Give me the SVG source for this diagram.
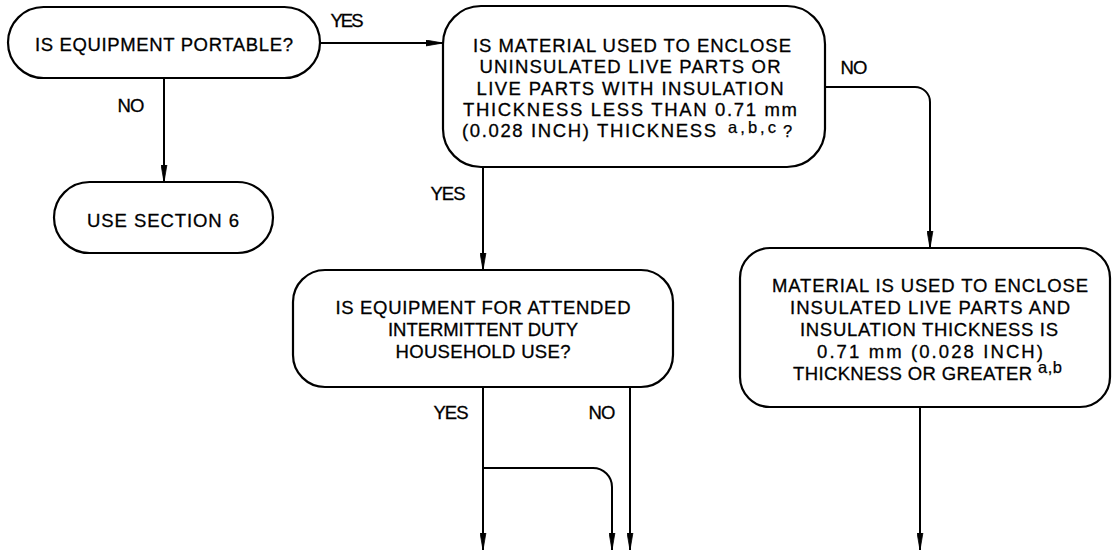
<svg xmlns="http://www.w3.org/2000/svg" width="1112" height="552" viewBox="0 0 1112 552">
<style>
.n{fill:#fff;stroke:#000;stroke-width:2.2}
.t{font-family:"Liberation Sans",Arial,sans-serif;font-size:18.5px;fill:#000;text-anchor:middle;stroke:#000;stroke-width:0.3}
.l{text-anchor:start}
.s{font-family:"Liberation Sans",Arial,sans-serif;font-size:16.5px;fill:#000;stroke:#000;stroke-width:0.25}
.c{fill:none;stroke:#000;stroke-width:2}
</style>
<defs>
<marker id="ah" viewBox="0 0 17 7" refX="17" refY="3.5" markerWidth="17" markerHeight="7" markerUnits="userSpaceOnUse" orient="auto">
<path d="M0,0.6 L17,3.5 L0,6.4 Z" fill="#000" stroke="#000" stroke-width="0.8"/>
</marker>
</defs>
<rect width="1112" height="552" fill="#fff"/>
<g id="connectors">
<path class="c" d="M320,43 H443" marker-end="url(#ah)"/>
<path class="c" d="M164,78 V182" marker-end="url(#ah)"/>
<path class="c" d="M483,167 V270" marker-end="url(#ah)"/>
<path class="c" d="M825,87 H915 A15,15 0 0 1 930,102 V248" marker-end="url(#ah)"/>
<path class="c" d="M920,407 V550" marker-end="url(#ah)"/>
<path class="c" d="M483,387 V550" marker-end="url(#ah)"/>
<path class="c" d="M483,468 H593 A19,19 0 0 1 612,487 V550" marker-end="url(#ah)"/>
<path class="c" d="M630,387 V550" marker-end="url(#ah)"/>
<text class="t" x="347" y="27" textLength="33" lengthAdjust="spacing">YES</text>
<text class="t" x="131" y="112" textLength="27" lengthAdjust="spacing">NO</text>
<text class="t" x="854" y="74" textLength="27" lengthAdjust="spacing">NO</text>
<text class="t" x="448" y="200" textLength="35" lengthAdjust="spacing">YES</text>
<text class="t" x="451" y="419" textLength="35" lengthAdjust="spacing">YES</text>
<text class="t" x="602" y="419" textLength="27" lengthAdjust="spacing">NO</text>
</g>
<g id="portable">
<rect class="n" x="8" y="7" width="312" height="71" rx="35.5"/>
<text class="t" x="164" y="51" textLength="258" lengthAdjust="spacing">IS EQUIPMENT PORTABLE?</text>
</g>
<g id="section6">
<rect class="n" x="54" y="182" width="219" height="71" rx="35.5"/>
<text class="t" x="163" y="227" textLength="152" lengthAdjust="spacing">USE SECTION 6</text>
</g>
<g id="material">
<rect class="n" x="443" y="6" width="382" height="161" rx="38"/>
<text class="t" x="632" y="52" textLength="318" lengthAdjust="spacing">IS MATERIAL USED TO ENCLOSE</text>
<text class="t" x="630" y="73" textLength="301" lengthAdjust="spacing">UNINSULATED LIVE PARTS OR</text>
<text class="t" x="630" y="95" textLength="307" lengthAdjust="spacing">LIVE PARTS WITH INSULATION</text>
<text class="t" x="630" y="116" textLength="334" lengthAdjust="spacing">THICKNESS LESS THAN 0.71 mm</text>
<text class="t l" x="462" y="137" textLength="254" lengthAdjust="spacing">(0.028 INCH) THICKNESS</text>
<text class="s" x="728" y="133" textLength="48" lengthAdjust="spacing">a,b,c</text>
<text class="s" x="783" y="137" font-size="13">?</text>
</g>
<g id="attended">
<rect class="n" x="293" y="270" width="380" height="117" rx="32"/>
<text class="t" x="483" y="314" textLength="295" lengthAdjust="spacing">IS EQUIPMENT FOR ATTENDED</text>
<text class="t" x="483" y="336" textLength="190" lengthAdjust="spacing">INTERMITTENT DUTY</text>
<text class="t" x="483" y="358" textLength="175" lengthAdjust="spacing">HOUSEHOLD USE?</text>
</g>
<g id="insulated">
<rect class="n" x="740" y="248" width="370" height="159" rx="30"/>
<text class="t" x="930" y="292" textLength="316" lengthAdjust="spacing">MATERIAL IS USED TO ENCLOSE</text>
<text class="t" x="930" y="314" textLength="280" lengthAdjust="spacing">INSULATED LIVE PARTS AND</text>
<text class="t" x="929" y="336" textLength="258" lengthAdjust="spacing">INSULATION THICKNESS IS</text>
<text class="t" x="930" y="358" textLength="226" lengthAdjust="spacing">0.71 mm (0.028 INCH)</text>
<text class="t l" x="793" y="380" textLength="239" lengthAdjust="spacing">THICKNESS OR GREATER</text>
<text class="s" x="1038" y="373" textLength="24" lengthAdjust="spacing">a,b</text>
</g>
</svg>
